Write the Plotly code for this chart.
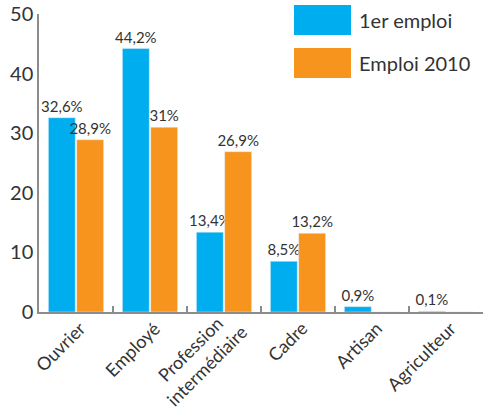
import plotly.graph_objects as go

categories = ["Ouvrier", "Employé", "Profession<br>intermédiaire", "Cadre", "Artisan", "Agriculteur"]
premier_emploi = [32.6, 44.2, 13.4, 8.5, 0.9, 0.1]
emploi_2010 = [28.9, 31.0, 26.9, 13.2, 0, 0]
series_names = ["1er emploi", "Emploi 2010"]
y_ticks = [0, 10, 20, 30, 40, 50]

BLUE = "#00AEEF"
ORANGE = "#F7941D"
FONT = "Lato"
TXT = "#333333"

W, H = 486, 419
ML, MR, MT, MB = 39, 3, 14, 107
XFS = 18  # x label font size


def fmt(v):
    if v == 0:
        return ""
    s = f"{v:.1f}".rstrip("0").rstrip(".")
    return s.replace(".", ",") + "%"


def px(x):
    return (x - ML) / (W - ML - MR)


def py(y):
    return (H - MB - y) / (H - MT - MB)


fig = go.Figure()
for name, vals, col in [(series_names[0], premier_emploi, BLUE), (series_names[1], emploi_2010, ORANGE)]:
    fig.add_trace(go.Bar(
        x=categories, y=vals, name=name, marker_color=col,
        text=[fmt(v) for v in vals], textposition="outside",
        textfont=dict(family=FONT, size=15, color=TXT),
        constraintext="none", cliponaxis=False, showlegend=False,
    ))

# legend drawn as swatches + labels
shapes = []
annotations = []
for i, (name, col) in enumerate([(series_names[0], BLUE), (series_names[1], ORANGE)]):
    y0 = 5 + i * 43
    shapes.append(dict(type="rect", xref="paper", yref="paper",
                       x0=px(294), x1=px(351), y0=py(y0 + 30), y1=py(y0),
                       fillcolor=col, line=dict(width=0)))
    annotations.append(dict(xref="paper", yref="paper", x=px(357), y=py(y0 + 15),
                            text=name, showarrow=False, xanchor="left", yanchor="middle",
                            font=dict(family=FONT, size=20, color=TXT)))

# rotated category labels (centred lines), anchored at the right-edge middle
for cat in categories:
    n = cat.count("<br>") + 1
    hb = n * 1.3 * XFS + 2
    mx, my = (8, 11) if n == 1 else (12, 7)
    annotations.append(dict(
        xref="x", yref="y", x=cat, y=0, text=cat, showarrow=False,
        textangle=-45, align="center", xanchor="right", yanchor="top",
        xshift=mx + 0.354 * hb, yshift=-(my - 0.354 * hb),
        font=dict(family=FONT, size=XFS, color=TXT),
    ))

fig.update_layout(
    width=W, height=H,
    margin=dict(l=ML, r=MR, t=MT, b=MB, autoexpand=False),
    paper_bgcolor="white", plot_bgcolor="white",
    barmode="group", bargap=0.235, bargroupgap=0.05,
    shapes=shapes, annotations=annotations,
    font=dict(family=FONT, color=TXT),
)
fig.update_xaxes(
    automargin=False, showticklabels=False, range=[-0.5, len(categories) - 0.5],
    showline=True, linecolor="#8c8c8c", linewidth=1.5,
    tickson="boundaries", ticks="inside", ticklen=6, tickcolor="#8c8c8c", tickwidth=1.5,
    showgrid=False, zeroline=False,
)
fig.update_yaxes(
    automargin=False,
    range=[0, 50], tickvals=y_ticks, showline=True, linecolor="#8c8c8c", linewidth=1.5,
    ticks="", tickfont=dict(family=FONT, size=20, color=TXT),
    showgrid=False, zeroline=False,
)

fig.write_html("out.html")
